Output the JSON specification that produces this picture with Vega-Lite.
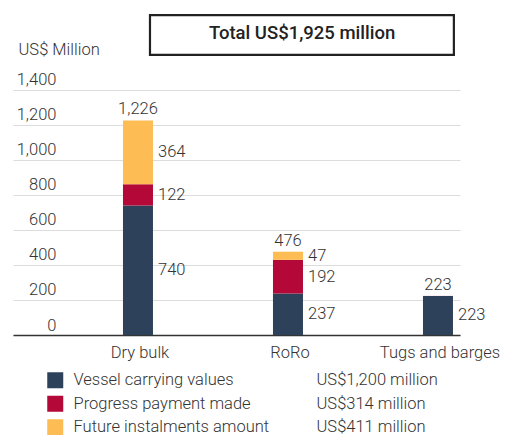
{
  "$schema": "https://vega.github.io/schema/vega-lite/v6.json",
  "autosize": "none",
  "width": 447,
  "height": 321,
  "padding": {"left": 13, "top": 14, "right": 47, "bottom": 100},
  "config": {
    "font": "Roboto",
    "view": {"stroke": null},
    "text": {"color": "#333333", "font": "Roboto", "fontSize": 16.5, "fontWeight": 300}
  },
  "data": {
    "values": [
      {"category": "Dry bulk", "series": "Vessel carrying values", "amount": "US$1,200 million", "value": 740},
      {"category": "Dry bulk", "series": "Progress payment made", "amount": "US$314 million", "value": 122},
      {"category": "Dry bulk", "series": "Future instalments amount", "amount": "US$411 million", "value": 364},
      {"category": "RoRo", "series": "Vessel carrying values", "amount": "US$1,200 million", "value": 237},
      {"category": "RoRo", "series": "Progress payment made", "amount": "US$314 million", "value": 192},
      {"category": "RoRo", "series": "Future instalments amount", "amount": "US$411 million", "value": 47},
      {"category": "Tugs and barges", "series": "Vessel carrying values", "amount": "US$1,200 million", "value": 223},
      {"category": "Tugs and barges", "series": "Progress payment made", "amount": "US$314 million", "value": 0.4},
      {"category": "Tugs and barges", "series": "Future instalments amount", "amount": "US$411 million", "value": 0}
    ]
  },
  "transform": [
    {"stack": "value", "groupby": ["category"], "sort": [{"field": "series", "order": "descending"}], "as": ["y0", "y1"]}
  ],
  "layer": [
    {
      "mark": {"type": "bar"},
      "encoding": {
        "x": {
          "field": "category", "type": "nominal", "sort": ["Dry bulk", "RoRo", "Tugs and barges"],
          "scale": {"paddingInner": 0.8, "paddingOuter": 0.39, "align": 0.94},
          "axis": {
            "title": null, "labelAngle": 0, "ticks": false, "tickSize": 0, "labelPadding": 9,
            "labelFontSize": 16.5, "labelColor": "#333333", "labelFont": "Roboto", "labelFontWeight": 300,
            "domain": true, "domainColor": "#333333", "domainWidth": 1.5, "labelLimit": 0, "labelOffset": 2
          }
        },
        "y": {
          "field": "y1", "type": "quantitative",
          "scale": {"domain": [0, 1834], "nice": false, "zero": true},
          "axis": {
            "title": "US$ Million", "titleAngle": 0, "titleAlign": "left", "titleBaseline": "alphabetic",
            "titleX": 5, "titleY": 40, "titleFontSize": 16.5, "titleFontWeight": 300, "titleColor": "#333333", "titleFont": "Roboto",
            "values": [0, 200, 400, 600, 800, 1000, 1200, 1400], "format": ",d",
            "domain": false, "ticks": false, "tickSize": 0, "labelPadding": -43, "labelAlign": "right",
            "labelBaseline": "alphabetic", "labelOffset": -5, "labelFontSize": 16.5, "labelColor": "#333333", "labelFont": "Roboto", "labelFontWeight": 300,
            "grid": true, "gridColor": "#dcdcdc", "gridWidth": 1.2
          }
        },
        "y2": {"field": "y0"},
        "color": {
          "field": "series", "type": "nominal",
          "scale": {"domain": ["Vessel carrying values", "Progress payment made", "Future instalments amount"], "range": ["#2d425a", "#b30838", "#fdbc54"]},
          "legend": {
            "title": null, "orient": "none", "legendX": 34, "legendY": 358, "padding": 0,
            "symbolType": "square", "symbolSize": 256, "symbolStrokeWidth": 0, "symbolOpacity": 1,
            "labelFontSize": 16.5, "labelColor": "#333333", "labelFont": "Roboto", "labelFontWeight": 300, "labelOffset": 10, "rowPadding": 6.5, "labelLimit": 0
          }
        },
        "opacity": {
          "field": "amount", "type": "ordinal",
          "scale": {"domain": ["US$1,200 million", "US$314 million", "US$411 million"], "range": [1, 1, 1]},
          "legend": {
            "title": null, "orient": "none", "legendX": 277, "legendY": 358, "padding": 0,
            "symbolType": "square", "symbolSize": 256, "symbolStrokeWidth": 0, "symbolFillColor": "#ffffff",
            "labelFontSize": 16.5, "labelColor": "#333333", "labelFont": "Roboto", "labelFontWeight": 300, "labelOffset": 10, "rowPadding": 6.5, "labelLimit": 0,
            "encode": {"symbols": {"update": {"opacity": {"value": 0}}}}
          }
        }
      }
    },
    {
      "transform": [
        {"filter": "datum.value > 5"},
        {"calculate": "(datum.y0 + datum.y1) / 2", "as": "mid"}
      ],
      "mark": {"type": "text", "align": "left", "baseline": "middle", "dx": 5},
      "encoding": {
        "x": {"field": "category", "type": "nominal", "bandPosition": 1},
        "y": {"field": "mid", "type": "quantitative"},
        "text": {"field": "value", "type": "quantitative", "format": ",.0f"}
      }
    },
    {
      "transform": [
        {"aggregate": [{"op": "sum", "field": "value", "as": "total"}], "groupby": ["category"]}
      ],
      "mark": {"type": "text", "align": "center", "baseline": "alphabetic", "dy": -6},
      "encoding": {
        "x": {"field": "category", "type": "nominal"},
        "y": {"field": "total", "type": "quantitative"},
        "text": {"field": "total", "type": "quantitative", "format": ",.0f"}
      }
    },
    {
      "data": {"values": [{"label": "Total US$1,925 million"}]},
      "mark": {"type": "rect", "fill": "#ffffff", "stroke": "#222222", "strokeWidth": 2.2},
      "encoding": {
        "x": {"datum": "Dry bulk", "type": "nominal", "bandPosition": 0.9},
        "x2": {"datum": "Tugs and barges", "bandPosition": 1.03},
        "y": {"datum": 1828, "type": "quantitative"},
        "y2": {"datum": 1600}
      }
    },
    {
      "data": {"values": [{"label": "Total US$1,925 million"}]},
      "mark": {"type": "text", "align": "center", "baseline": "middle", "fontWeight": 500, "fontSize": 18.5, "color": "#222222"},
      "encoding": {
        "x": {"datum": "RoRo", "type": "nominal", "bandPosition": 0.97},
        "y": {"datum": 1726, "type": "quantitative"},
        "text": {"field": "label", "type": "nominal"}
      }
    }
  ]
}
